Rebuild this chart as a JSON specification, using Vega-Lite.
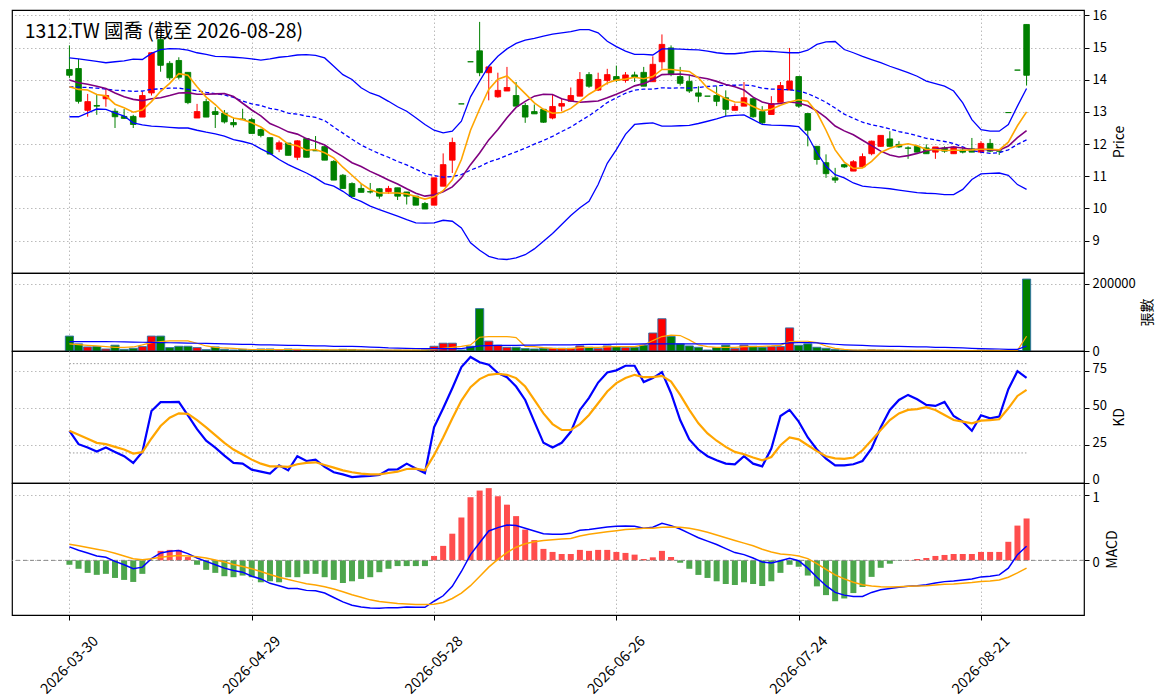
{
  "$schema": "https://vega.github.io/schema/vega-lite/v6.json",
  "padding": {"left": 10, "top": 8, "right": 0, "bottom": 0},
  "config": {
    "font": "Noto Sans CJK TC",
    "view": {"stroke": "#000000", "strokeWidth": 1.2},
    "scale": {"continuousPadding": 0},
    "axis": {
      "domain": false, "grid": true, "gridColor": "#b3b3b3", "gridDash": [1.5, 2.5], "gridWidth": 0.9,
      "tickColor": "#000000", "tickSize": 5, "tickWidth": 1,
      "labelFont": "Noto Sans CJK TC", "labelFontSize": 14, "labelColor": "#000000", "labelPadding": 3,
      "titleFont": "Noto Sans CJK TC", "titleFontSize": 14, "titleFontWeight": "normal", "titleColor": "#000000"
    },
    "axisRight": {"labelFontSize": 13}
  },
  "datasets": {
    "d": [
      {"i":0,"o":14.32,"h":15.07,"l":14.06,"c":14.14,"m5":13.78,"m10":13.99,"m20":13.78,"bu":14.68,"bl":12.85,"v":44400,"v5":21000,"v20":28000,"k":34.9,"d":34.9,"dif":0.205,"dea":0.246,"osc":-0.067},
      {"i":1,"o":14.35,"h":14.65,"l":13.26,"c":13.33,"m5":13.70,"m10":13.91,"m20":13.77,"bu":14.65,"bl":12.85,"v":21200,"v5":19000,"v20":28000,"k":25.9,"d":32.2,"dif":0.154,"dea":0.221,"osc":-0.128},
      {"i":2,"o":13.05,"h":13.56,"l":12.85,"c":13.32,"m5":13.68,"m10":13.86,"m20":13.76,"bu":14.61,"bl":12.97,"v":12100,"v5":17000,"v20":28000,"k":23.6,"d":29.5,"dif":0.113,"dea":0.195,"osc":-0.19},
      {"i":3,"o":13.20,"h":13.56,"l":12.91,"c":13.18,"m5":13.54,"m10":13.80,"m20":13.74,"bu":14.57,"bl":13.09,"v":13100,"v5":15000,"v20":28000,"k":20.9,"d":26.8,"dif":0.067,"dea":0.169,"osc":-0.22},
      {"i":4,"o":13.41,"h":13.74,"l":13.16,"c":13.51,"m5":13.50,"m10":13.73,"m20":13.71,"bu":14.53,"bl":13.08,"v":6000,"v5":13000,"v20":28000,"k":23.6,"d":25.9,"dif":0.046,"dea":0.144,"osc":-0.205},
      {"i":5,"o":13.02,"h":13.11,"l":12.50,"c":12.85,"m5":13.24,"m10":13.59,"m20":13.68,"bu":14.56,"bl":12.97,"v":17200,"v5":11000,"v20":27500,"k":20.7,"d":24.1,"dif":-0.015,"dea":0.108,"osc":-0.267},
      {"i":6,"o":12.86,"h":13.09,"l":12.78,"c":12.80,"m5":13.13,"m10":13.47,"m20":13.66,"bu":14.59,"bl":12.87,"v":5000,"v5":11000,"v20":27000,"k":17.8,"d":22.3,"dif":-0.067,"dea":0.067,"osc":-0.297},
      {"i":7,"o":12.86,"h":12.91,"l":12.50,"c":12.61,"m5":12.99,"m10":13.39,"m20":13.64,"bu":14.64,"bl":12.66,"v":8100,"v5":12000,"v20":26500,"k":13.3,"d":19.6,"dif":-0.128,"dea":0.026,"osc":-0.328},
      {"i":8,"o":12.84,"h":13.64,"l":12.84,"c":13.51,"m5":13.06,"m10":13.35,"m20":13.65,"bu":14.63,"bl":12.60,"v":13100,"v5":18000,"v20":26000,"k":20.7,"d":20.5,"dif":-0.103,"dea":0.010,"osc":-0.205},
      {"i":9,"o":13.59,"h":14.86,"l":13.51,"c":14.84,"m5":13.32,"m10":13.41,"m20":13.70,"bu":14.82,"bl":12.56,"v":44400,"v5":25000,"v20":25500,"k":48.2,"d":29.7,"dif":0.026,"dea":0.026,"osc":-0.005},
      {"i":10,"o":15.25,"h":15.36,"l":14.25,"c":14.45,"m5":13.64,"m10":13.44,"m20":13.72,"bu":14.94,"bl":12.54,"v":44400,"v5":28000,"v20":25000,"k":54.1,"d":38.1,"dif":0.113,"dea":0.046,"osc":0.144},
      {"i":11,"o":14.51,"h":14.58,"l":13.99,"c":14.06,"m5":13.89,"m10":13.51,"m20":13.74,"bu":14.97,"bl":12.52,"v":10100,"v5":30000,"v20":24500,"k":54.1,"d":43.7,"dif":0.138,"dea":0.062,"osc":0.159},
      {"i":12,"o":14.60,"h":14.70,"l":14.01,"c":14.08,"m5":14.19,"m10":13.59,"m20":13.74,"bu":14.96,"bl":12.50,"v":14100,"v5":30000,"v20":24000,"k":54.3,"d":46.6,"dif":0.149,"dea":0.072,"osc":0.159},
      {"i":13,"o":14.23,"h":14.23,"l":13.24,"c":13.29,"m5":14.14,"m10":13.60,"m20":13.70,"bu":14.92,"bl":12.50,"v":14100,"v5":30000,"v20":23500,"k":45.3,"d":46.2,"dif":0.103,"dea":0.067,"osc":0.05},
      {"i":14,"o":12.81,"h":13.25,"l":12.81,"c":13.01,"m5":13.78,"m10":13.55,"m20":13.66,"bu":14.84,"bl":12.43,"v":10100,"v5":23000,"v20":23000,"k":36.0,"d":42.1,"dif":0.036,"dea":0.056,"osc":-0.067},
      {"i":15,"o":13.32,"h":13.41,"l":12.84,"c":12.84,"m5":13.46,"m10":13.55,"m20":13.61,"bu":14.79,"bl":12.37,"v":4000,"v5":15000,"v20":22500,"k":28.2,"d":37.2,"dif":-0.015,"dea":0.036,"osc":-0.144},
      {"i":16,"o":13.01,"h":13.15,"l":12.50,"c":12.92,"m5":13.23,"m10":13.56,"m20":13.57,"bu":14.73,"bl":12.32,"v":12100,"v5":11000,"v20":22000,"k":23.6,"d":32.0,"dif":-0.067,"dea":0.005,"osc":-0.19},
      {"i":17,"o":12.96,"h":13.06,"l":12.64,"c":12.69,"m5":12.95,"m10":13.57,"m20":13.53,"bu":14.72,"bl":12.25,"v":5000,"v5":9000,"v20":21000,"k":18.2,"d":26.8,"dif":-0.118,"dea":-0.026,"osc":-0.241},
      {"i":18,"o":12.67,"h":12.82,"l":12.52,"c":12.60,"m5":12.81,"m10":13.48,"m20":13.45,"bu":14.70,"bl":12.14,"v":3000,"v5":8000,"v20":20500,"k":13.3,"d":22.3,"dif":-0.154,"dea":-0.062,"osc":-0.256},
      {"i":19,"o":12.78,"h":13.10,"l":12.76,"c":12.76,"m5":12.76,"m10":13.27,"m20":13.34,"bu":14.68,"bl":12.08,"v":5000,"v5":6000,"v20":20000,"k":12.8,"d":18.9,"dif":-0.179,"dea":-0.092,"osc":-0.231},
      {"i":20,"o":12.76,"h":12.82,"l":12.33,"c":12.33,"m5":12.66,"m10":13.06,"m20":13.25,"bu":14.65,"bl":12.01,"v":3000,"v5":4500,"v20":19500,"k":8.8,"d":15.5,"dif":-0.241,"dea":-0.128,"osc":-0.256},
      {"i":21,"o":12.45,"h":12.48,"l":12.21,"c":12.27,"m5":12.53,"m10":12.88,"m20":13.20,"bu":14.61,"bl":11.85,"v":6000,"v5":4500,"v20":18500,"k":7.4,"d":12.8,"dif":-0.282,"dea":-0.169,"osc":-0.333},
      {"i":22,"o":12.20,"h":12.20,"l":11.69,"c":11.69,"m5":12.33,"m10":12.64,"m20":13.11,"bu":14.65,"bl":11.71,"v":6000,"v5":4500,"v20":18000,"k":6.1,"d":11.0,"dif":-0.349,"dea":-0.215,"osc":-0.318},
      {"i":23,"o":11.84,"h":12.11,"l":11.75,"c":12.04,"m5":12.22,"m10":12.52,"m20":13.06,"bu":14.70,"bl":11.52,"v":3000,"v5":4500,"v20":17500,"k":11.7,"d":11.0,"dif":-0.385,"dea":-0.256,"osc":-0.333},
      {"i":24,"o":12.03,"h":12.03,"l":11.65,"c":11.65,"m5":12.00,"m10":12.38,"m20":12.96,"bu":14.73,"bl":11.36,"v":6000,"v5":4500,"v20":17000,"k":8.3,"d":10.6,"dif":-0.426,"dea":-0.292,"osc":-0.256},
      {"i":25,"o":11.59,"h":12.12,"l":11.50,"c":12.10,"m5":11.95,"m10":12.31,"m20":12.93,"bu":14.77,"bl":11.23,"v":5000,"v5":4500,"v20":16500,"k":17.8,"d":12.4,"dif":-0.426,"dea":-0.323,"osc":-0.256},
      {"i":26,"o":12.17,"h":12.17,"l":11.59,"c":11.59,"m5":11.81,"m10":12.17,"m20":12.87,"bu":14.78,"bl":11.10,"v":3000,"v5":4000,"v20":16000,"k":14.6,"d":13.3,"dif":-0.456,"dea":-0.354,"osc":-0.205},
      {"i":27,"o":11.80,"h":12.25,"l":11.79,"c":11.79,"m5":11.83,"m10":12.08,"m20":12.83,"bu":14.76,"bl":10.95,"v":2500,"v5":4000,"v20":15500,"k":15.5,"d":13.7,"dif":-0.462,"dea":-0.374,"osc":-0.205},
      {"i":28,"o":11.92,"h":11.93,"l":11.50,"c":11.50,"m5":11.73,"m10":11.97,"m20":12.73,"bu":14.68,"bl":10.77,"v":3000,"v5":3500,"v20":15000,"k":10.6,"d":11.9,"dif":-0.497,"dea":-0.400,"osc":-0.256},
      {"i":29,"o":11.46,"h":11.50,"l":10.88,"c":10.88,"m5":11.57,"m10":11.78,"m20":12.53,"bu":14.42,"bl":10.69,"v":2500,"v5":3500,"v20":14000,"k":7.0,"d":10.1,"dif":-0.564,"dea":-0.436,"osc":-0.297},
      {"i":30,"o":11.03,"h":11.07,"l":10.62,"c":10.62,"m5":11.28,"m10":11.61,"m20":12.34,"bu":14.16,"bl":10.53,"v":5000,"v5":3500,"v20":14000,"k":5.6,"d":8.3,"dif":-0.631,"dea":-0.477,"osc":-0.344},
      {"i":31,"o":10.77,"h":10.81,"l":10.37,"c":10.37,"m5":11.03,"m10":11.42,"m20":12.15,"bu":14.01,"bl":10.33,"v":4500,"v5":3500,"v20":13500,"k":3.8,"d":7.0,"dif":-0.682,"dea":-0.523,"osc":-0.318},
      {"i":32,"o":10.62,"h":10.76,"l":10.50,"c":10.50,"m5":10.77,"m10":11.30,"m20":11.97,"bu":13.75,"bl":10.22,"v":2500,"v5":3500,"v20":13000,"k":4.3,"d":6.1,"dif":-0.708,"dea":-0.559,"osc":-0.282},
      {"i":33,"o":10.52,"h":10.79,"l":10.46,"c":10.51,"m5":10.58,"m10":11.15,"m20":11.83,"bu":13.59,"bl":10.07,"v":2000,"v5":3000,"v20":11500,"k":4.5,"d":5.6,"dif":-0.723,"dea":-0.600,"osc":-0.256},
      {"i":34,"o":10.61,"h":10.63,"l":10.30,"c":10.38,"m5":10.48,"m10":11.02,"m20":11.70,"bu":13.49,"bl":9.96,"v":2500,"v5":3000,"v20":10500,"k":5.2,"d":5.6,"dif":-0.728,"dea":-0.626,"osc":-0.18},
      {"i":35,"o":10.52,"h":10.70,"l":10.45,"c":10.62,"m5":10.48,"m10":10.88,"m20":11.59,"bu":13.33,"bl":9.86,"v":2000,"v5":3000,"v20":9000,"k":8.8,"d":6.5,"dif":-0.718,"dea":-0.641,"osc":-0.128},
      {"i":36,"o":10.64,"h":10.64,"l":10.26,"c":10.38,"m5":10.48,"m10":10.76,"m20":11.46,"bu":13.16,"bl":9.76,"v":2500,"v5":2500,"v20":8500,"k":9.0,"d":7.4,"dif":-0.718,"dea":-0.656,"osc":-0.087},
      {"i":37,"o":10.51,"h":10.51,"l":10.12,"c":10.38,"m5":10.45,"m10":10.61,"m20":11.35,"bu":13.02,"bl":9.65,"v":2000,"v5":2500,"v20":8000,"k":12.8,"d":9.2,"dif":-0.708,"dea":-0.662,"osc":-0.087},
      {"i":38,"o":10.38,"h":10.38,"l":10.10,"c":10.10,"m5":10.37,"m10":10.47,"m20":11.22,"bu":12.82,"bl":9.55,"v":2500,"v5":2500,"v20":7500,"k":9.5,"d":9.5,"dif":-0.713,"dea":-0.672,"osc":-0.087},
      {"i":39,"o":10.15,"h":10.20,"l":9.98,"c":9.98,"m5":10.29,"m10":10.38,"m20":11.08,"bu":12.61,"bl":9.54,"v":3000,"v5":2500,"v20":7000,"k":6.5,"d":8.3,"dif":-0.713,"dea":-0.672,"osc":-0.087},
      {"i":40,"o":10.10,"h":10.95,"l":10.10,"c":10.95,"m5":10.36,"m10":10.42,"m20":11.02,"bu":12.43,"bl":9.55,"v":14100,"v5":5000,"v20":7000,"k":37.2,"d":18.5,"dif":-0.621,"dea":-0.667,"osc":0.067},
      {"i":41,"o":10.69,"h":11.71,"l":10.69,"c":11.36,"m5":10.55,"m10":10.52,"m20":10.97,"bu":12.35,"bl":9.63,"v":23200,"v5":8000,"v20":7000,"k":50.0,"d":30.4,"dif":-0.538,"dea":-0.641,"osc":0.22},
      {"i":42,"o":11.50,"h":12.20,"l":11.10,"c":12.05,"m5":10.89,"m10":10.67,"m20":10.99,"bu":12.40,"bl":9.60,"v":23200,"v5":11000,"v20":7000,"k":63.5,"d":43.2,"dif":-0.395,"dea":-0.579,"osc":0.405},
      {"i":43,"o":13.25,"h":13.25,"l":13.25,"c":13.25,"m5":11.52,"m10":10.95,"m20":11.05,"bu":12.71,"bl":9.39,"v":3000,"v5":14000,"v20":7000,"k":77.7,"d":55.2,"dif":-0.169,"dea":-0.497,"osc":0.651},
      {"i":44,"o":14.56,"h":14.56,"l":14.56,"c":14.56,"m5":12.43,"m10":11.36,"m20":11.19,"bu":13.47,"bl":8.93,"v":14100,"v5":18000,"v20":11000,"k":84.5,"d":64.2,"dif":0.087,"dea":-0.385,"osc":0.959},
      {"i":45,"o":14.90,"h":15.80,"l":14.11,"c":14.22,"m5":13.09,"m10":11.72,"m20":11.30,"bu":13.96,"bl":8.70,"v":126100,"v5":41000,"v20":15000,"k":80.9,"d":69.6,"dif":0.267,"dea":-0.246,"osc":1.06},
      {"i":46,"o":14.22,"h":14.40,"l":13.36,"c":14.40,"m5":13.70,"m10":12.13,"m20":11.44,"bu":14.42,"bl":8.51,"v":29300,"v5":43000,"v20":16000,"k":79.3,"d":72.5,"dif":0.446,"dea":-0.103,"osc":1.097},
      {"i":47,"o":13.47,"h":14.22,"l":13.44,"c":13.67,"m5":14.02,"m10":12.45,"m20":11.53,"bu":14.73,"bl":8.43,"v":17200,"v5":43000,"v20":16500,"k":73.6,"d":73.2,"dif":0.497,"dea":0.015,"osc":0.974},
      {"i":48,"o":13.65,"h":14.40,"l":13.65,"c":13.76,"m5":14.12,"m10":12.82,"m20":11.65,"bu":14.96,"bl":8.41,"v":11100,"v5":43000,"v20":17000,"k":70.9,"d":72.5,"dif":0.538,"dea":0.118,"osc":0.846},
      {"i":49,"o":13.51,"h":13.93,"l":13.18,"c":13.18,"m5":13.85,"m10":13.14,"m20":11.76,"bu":15.13,"bl":8.46,"v":11100,"v5":40000,"v20":17000,"k":64.6,"d":70.3,"dif":0.528,"dea":0.200,"osc":0.672},
      {"i":50,"o":13.20,"h":13.28,"l":12.66,"c":12.84,"m5":13.57,"m10":13.33,"m20":11.87,"bu":15.23,"bl":8.56,"v":7100,"v5":14000,"v20":17500,"k":55.6,"d":64.6,"dif":0.487,"dea":0.251,"osc":0.467},
      {"i":51,"o":13.01,"h":13.23,"l":12.94,"c":12.94,"m5":13.28,"m10":13.49,"m20":12.00,"bu":15.29,"bl":8.74,"v":6000,"v5":13000,"v20":17500,"k":41.0,"d":55.6,"dif":0.446,"dea":0.282,"osc":0.308},
      {"i":52,"o":13.08,"h":13.08,"l":12.66,"c":12.68,"m5":13.08,"m10":13.55,"m20":12.11,"bu":15.36,"bl":8.98,"v":8100,"v5":10000,"v20":18000,"k":26.8,"d":46.6,"dif":0.405,"dea":0.303,"osc":0.174},
      {"i":53,"o":12.81,"h":13.54,"l":12.77,"c":13.17,"m5":12.96,"m10":13.54,"m20":12.24,"bu":15.42,"bl":9.22,"v":8100,"v5":8000,"v20":18000,"k":23.6,"d":39.4,"dif":0.395,"dea":0.313,"osc":0.128},
      {"i":54,"o":13.18,"h":13.42,"l":13.02,"c":13.26,"m5":12.98,"m10":13.41,"m20":12.39,"bu":15.46,"bl":9.50,"v":8100,"v5":7000,"v20":18500,"k":26.8,"d":35.4,"dif":0.395,"dea":0.323,"osc":0.097},
      {"i":55,"o":13.33,"h":13.76,"l":13.33,"c":13.51,"m5":13.11,"m10":13.34,"m20":12.53,"bu":15.50,"bl":9.78,"v":8100,"v5":7000,"v20":18500,"k":34.2,"d":35.4,"dif":0.410,"dea":0.333,"osc":0.097},
      {"i":56,"o":13.49,"h":14.24,"l":13.49,"c":14.01,"m5":13.33,"m10":13.30,"m20":12.71,"bu":15.56,"bl":10.02,"v":15100,"v5":10000,"v20":19000,"k":48.9,"d":39.4,"dif":0.456,"dea":0.369,"osc":0.159},
      {"i":57,"o":14.16,"h":14.24,"l":13.75,"c":13.80,"m5":13.55,"m10":13.32,"m20":12.88,"bu":15.56,"bl":10.22,"v":11100,"v5":11000,"v20":20000,"k":57.0,"d":45.5,"dif":0.467,"dea":0.395,"osc":0.144},
      {"i":58,"o":13.68,"h":14.22,"l":13.65,"c":14.01,"m5":13.72,"m10":13.34,"m20":13.08,"bu":15.46,"bl":10.74,"v":7100,"v5":11000,"v20":20000,"k":67.3,"d":53.4,"dif":0.487,"dea":0.415,"osc":0.159},
      {"i":59,"o":13.98,"h":14.34,"l":13.85,"c":14.16,"m5":13.90,"m10":13.44,"m20":13.29,"bu":15.20,"bl":11.40,"v":15100,"v5":12000,"v20":20000,"k":74.1,"d":61.3,"dif":0.508,"dea":0.436,"osc":0.159},
      {"i":60,"o":14.10,"h":14.44,"l":13.93,"c":13.98,"m5":13.99,"m10":13.55,"m20":13.44,"bu":15.03,"bl":11.83,"v":13100,"v5":13000,"v20":20500,"k":75.5,"d":66.9,"dif":0.518,"dea":0.451,"osc":0.128},
      {"i":61,"o":13.98,"h":14.24,"l":13.91,"c":14.15,"m5":14.02,"m10":13.67,"m20":13.58,"bu":14.89,"bl":12.30,"v":10100,"v5":13000,"v20":20500,"k":78.6,"d":70.3,"dif":0.523,"dea":0.467,"osc":0.113},
      {"i":62,"o":14.15,"h":14.25,"l":13.93,"c":14.08,"m5":14.08,"m10":13.81,"m20":13.68,"bu":14.79,"bl":12.61,"v":11100,"v5":13000,"v20":20500,"k":78.6,"d":72.5,"dif":0.518,"dea":0.477,"osc":0.087},
      {"i":63,"o":14.23,"h":14.40,"l":13.80,"c":13.80,"m5":14.03,"m10":13.88,"m20":13.71,"bu":14.79,"bl":12.64,"v":17200,"v5":18000,"v20":21000,"k":67.6,"d":70.9,"dif":0.487,"dea":0.487,"osc":0.021},
      {"i":64,"o":13.94,"h":14.73,"l":13.94,"c":14.48,"m5":14.10,"m10":14.00,"m20":13.71,"bu":14.77,"bl":12.66,"v":53500,"v5":31000,"v20":21000,"k":70.3,"d":70.9,"dif":0.503,"dea":0.487,"osc":0.046},
      {"i":65,"o":14.56,"h":15.41,"l":14.34,"c":15.10,"m5":14.32,"m10":14.16,"m20":13.75,"bu":14.96,"bl":12.56,"v":96000,"v5":43000,"v20":21000,"k":74.3,"d":71.8,"dif":0.564,"dea":0.503,"osc":0.144},
      {"i":66,"o":14.99,"h":15.07,"l":14.11,"c":14.16,"m5":14.32,"m10":14.17,"m20":13.74,"bu":14.96,"bl":12.56,"v":43400,"v5":47000,"v20":21000,"k":60.1,"d":68.0,"dif":0.528,"dea":0.508,"osc":0.051},
      {"i":67,"o":14.10,"h":14.40,"l":13.82,"c":13.89,"m5":14.29,"m10":14.18,"m20":13.75,"bu":14.95,"bl":12.57,"v":21200,"v5":46000,"v20":21000,"k":42.1,"d":59.0,"dif":0.477,"dea":0.503,"osc":-0.036},
      {"i":68,"o":13.95,"h":14.15,"l":13.59,"c":13.65,"m5":14.26,"m10":14.15,"m20":13.74,"bu":14.94,"bl":12.58,"v":15100,"v5":33000,"v20":21000,"k":29.1,"d":48.9,"dif":0.410,"dea":0.487,"osc":-0.128},
      {"i":69,"o":13.59,"h":13.80,"l":13.30,"c":13.49,"m5":14.06,"m10":14.08,"m20":13.76,"bu":14.93,"bl":12.64,"v":11100,"v5":18000,"v20":21000,"k":22.3,"d":39.9,"dif":0.344,"dea":0.462,"osc":-0.221},
      {"i":70,"o":13.49,"h":13.49,"l":13.49,"c":13.49,"m5":13.74,"m10":14.03,"m20":13.79,"bu":14.89,"bl":12.71,"v":3000,"v5":13000,"v20":21000,"k":17.8,"d":33.1,"dif":0.292,"dea":0.426,"osc":-0.267},
      {"i":71,"o":13.51,"h":13.80,"l":13.18,"c":13.33,"m5":13.57,"m10":13.95,"m20":13.81,"bu":14.84,"bl":12.78,"v":10100,"v5":11000,"v20":21000,"k":15.1,"d":28.2,"dif":0.241,"dea":0.385,"osc":-0.318},
      {"i":72,"o":13.44,"h":13.67,"l":12.87,"c":13.08,"m5":13.41,"m10":13.85,"m20":13.83,"bu":14.81,"bl":12.87,"v":17200,"v5":11000,"v20":21000,"k":12.8,"d":24.1,"dif":0.179,"dea":0.344,"osc":-0.359},
      {"i":73,"o":13.05,"h":13.26,"l":13.05,"c":13.17,"m5":13.31,"m10":13.78,"m20":13.83,"bu":14.81,"bl":12.89,"v":7100,"v5":11000,"v20":21000,"k":12.4,"d":20.7,"dif":0.118,"dea":0.303,"osc":-0.374},
      {"i":74,"o":13.18,"h":13.93,"l":13.18,"c":13.44,"m5":13.30,"m10":13.68,"m20":13.84,"bu":14.84,"bl":12.91,"v":17200,"v5":13000,"v20":21000,"k":17.8,"d":19.1,"dif":0.087,"dea":0.262,"osc":-0.333},
      {"i":75,"o":13.41,"h":13.44,"l":12.82,"c":12.85,"m5":13.17,"m10":13.46,"m20":13.81,"bu":14.88,"bl":12.76,"v":14100,"v5":13000,"v20":21000,"k":12.8,"d":16.9,"dif":0.036,"dea":0.221,"osc":-0.359},
      {"i":76,"o":13.01,"h":13.18,"l":12.61,"c":12.66,"m5":13.04,"m10":13.31,"m20":13.74,"bu":14.89,"bl":12.61,"v":11100,"v5":14000,"v20":21000,"k":11.0,"d":15.1,"dif":-0.026,"dea":0.169,"osc":-0.390},
      {"i":77,"o":12.92,"h":13.49,"l":12.92,"c":13.26,"m5":13.08,"m10":13.24,"m20":13.71,"bu":14.88,"bl":12.59,"v":13100,"v5":15000,"v20":21000,"k":23.0,"d":17.3,"dif":-0.041,"dea":0.128,"osc":-0.318},
      {"i":78,"o":13.30,"h":13.93,"l":13.30,"c":13.82,"m5":13.21,"m10":13.26,"m20":13.70,"bu":14.86,"bl":12.58,"v":13100,"v5":17000,"v20":21000,"k":44.8,"d":25.2,"dif":-0.005,"dea":0.097,"osc":-0.190},
      {"i":79,"o":13.68,"h":14.99,"l":13.68,"c":13.96,"m5":13.31,"m10":13.31,"m20":13.69,"bu":14.84,"bl":12.57,"v":68700,"v5":28000,"v20":24000,"k":48.9,"d":30.4,"dif":0.031,"dea":0.087,"osc":-0.067},
      {"i":80,"o":14.10,"h":14.10,"l":13.13,"c":13.18,"m5":13.38,"m10":13.28,"m20":13.65,"bu":14.84,"bl":12.54,"v":17200,"v5":29000,"v20":25000,"k":41.0,"d":29.1,"dif":-0.005,"dea":0.067,"osc":-0.097},
      {"i":81,"o":12.95,"h":12.95,"l":11.93,"c":12.43,"m5":13.33,"m10":13.19,"m20":13.57,"bu":14.92,"bl":12.25,"v":21200,"v5":29000,"v20":25000,"k":30.4,"d":25.2,"dif":-0.118,"dea":0.026,"osc":-0.231},
      {"i":82,"o":11.93,"h":11.93,"l":11.36,"c":11.52,"m5":12.98,"m10":13.03,"m20":13.44,"bu":15.10,"bl":11.73,"v":11100,"v5":25000,"v20":24000,"k":22.3,"d":21.2,"dif":-0.256,"dea":-0.051,"osc":-0.395},
      {"i":83,"o":11.42,"h":11.68,"l":10.95,"c":11.08,"m5":12.43,"m10":12.82,"m20":13.30,"bu":15.18,"bl":11.31,"v":8100,"v5":15000,"v20":22000,"k":16.2,"d":17.8,"dif":-0.385,"dea":-0.138,"osc":-0.528},
      {"i":84,"o":10.95,"h":11.26,"l":10.79,"c":10.88,"m5":11.82,"m10":12.56,"m20":13.12,"bu":15.19,"bl":11.05,"v":5000,"v5":8000,"v20":20000,"k":11.7,"d":16.4,"dif":-0.487,"dea":-0.221,"osc":-0.621},
      {"i":85,"o":11.36,"h":11.39,"l":11.26,"c":11.29,"m5":11.44,"m10":12.41,"m20":12.93,"bu":14.94,"bl":10.95,"v":3000,"v5":5000,"v20":18500,"k":11.7,"d":16.0,"dif":-0.528,"dea":-0.282,"osc":-0.579},
      {"i":86,"o":11.16,"h":11.50,"l":11.16,"c":11.45,"m5":11.24,"m10":12.29,"m20":12.80,"bu":14.84,"bl":10.79,"v":2500,"v5":3000,"v20":17500,"k":12.4,"d":16.9,"dif":-0.549,"dea":-0.333,"osc":-0.497},
      {"i":87,"o":11.29,"h":11.71,"l":11.26,"c":11.61,"m5":11.26,"m10":12.12,"m20":12.68,"bu":14.73,"bl":10.69,"v":2500,"v5":2800,"v20":16500,"k":14.6,"d":21.8,"dif":-0.549,"dea":-0.369,"osc":-0.405},
      {"i":88,"o":11.70,"h":12.11,"l":11.65,"c":12.09,"m5":11.46,"m10":11.95,"m20":12.60,"bu":14.63,"bl":10.66,"v":3500,"v5":2600,"v20":15500,"k":23.0,"d":28.6,"dif":-0.487,"dea":-0.390,"osc":-0.251},
      {"i":89,"o":11.93,"h":12.27,"l":11.91,"c":12.27,"m5":11.74,"m10":11.78,"m20":12.54,"bu":14.53,"bl":10.64,"v":2500,"v5":2500,"v20":14500,"k":37.2,"d":35.4,"dif":-0.446,"dea":-0.400,"osc":-0.113},
      {"i":90,"o":12.16,"h":12.40,"l":11.93,"c":11.93,"m5":11.87,"m10":11.66,"m20":12.47,"bu":14.42,"bl":10.61,"v":2000,"v5":2400,"v20":14000,"k":48.9,"d":42.1,"dif":-0.426,"dea":-0.405,"osc":-0.051},
      {"i":91,"o":11.99,"h":12.09,"l":11.88,"c":11.91,"m5":11.96,"m10":11.60,"m20":12.39,"bu":14.32,"bl":10.57,"v":1500,"v5":2300,"v20":13500,"k":55.6,"d":46.6,"dif":-0.410,"dea":-0.400,"osc":-0.005},
      {"i":92,"o":11.88,"h":11.93,"l":11.54,"c":11.87,"m5":12.01,"m10":11.64,"m20":12.33,"bu":14.22,"bl":10.53,"v":1500,"v5":2200,"v20":13000,"k":59.0,"d":48.9,"dif":-0.395,"dea":-0.395,"osc":0.005},
      {"i":93,"o":11.93,"h":11.96,"l":11.73,"c":11.75,"m5":11.95,"m10":11.71,"m20":12.26,"bu":14.11,"bl":10.49,"v":1500,"v5":2000,"v20":12500,"k":56.1,"d":49.5,"dif":-0.385,"dea":-0.390,"osc":0.021},
      {"i":94,"o":11.88,"h":11.99,"l":11.70,"c":11.70,"m5":11.83,"m10":11.79,"m20":12.18,"bu":13.96,"bl":10.47,"v":1500,"v5":1800,"v20":12000,"k":52.3,"d":50.7,"dif":-0.369,"dea":-0.385,"osc":0.036},
      {"i":95,"o":11.75,"h":11.91,"l":11.54,"c":11.91,"m5":11.83,"m10":11.85,"m20":12.13,"bu":13.88,"bl":10.46,"v":2000,"v5":1700,"v20":11000,"k":51.6,"d":48.9,"dif":-0.344,"dea":-0.374,"osc":0.067},
      {"i":96,"o":11.88,"h":11.93,"l":11.73,"c":11.78,"m5":11.80,"m10":11.88,"m20":12.08,"bu":13.80,"bl":10.43,"v":1500,"v5":1600,"v20":10500,"k":54.3,"d":45.5,"dif":-0.323,"dea":-0.364,"osc":0.082},
      {"i":97,"o":11.70,"h":11.93,"l":11.70,"c":11.91,"m5":11.81,"m10":11.91,"m20":12.02,"bu":13.65,"bl":10.43,"v":1500,"v5":1600,"v20":10000,"k":44.8,"d":42.1,"dif":-0.313,"dea":-0.359,"osc":0.097},
      {"i":98,"o":11.81,"h":11.88,"l":11.71,"c":11.75,"m5":11.81,"m10":11.88,"m20":11.91,"bu":13.28,"bl":10.59,"v":1200,"v5":1500,"v20":9000,"k":41.0,"d":41.0,"dif":-0.297,"dea":-0.349,"osc":0.097},
      {"i":99,"o":11.85,"h":12.19,"l":11.75,"c":11.75,"m5":11.82,"m10":11.83,"m20":11.80,"bu":12.76,"bl":10.90,"v":1500,"v5":1500,"v20":8000,"k":34.9,"d":39.9,"dif":-0.282,"dea":-0.338,"osc":0.097},
      {"i":100,"o":11.75,"h":12.09,"l":11.71,"c":12.02,"m5":11.84,"m10":11.84,"m20":11.75,"bu":12.45,"bl":11.07,"v":2500,"v5":1600,"v20":7000,"k":45.3,"d":41.7,"dif":-0.251,"dea":-0.323,"osc":0.128},
      {"i":101,"o":12.02,"h":12.16,"l":11.75,"c":11.78,"m5":11.84,"m10":11.82,"m20":11.71,"bu":12.40,"bl":11.09,"v":2000,"v5":1700,"v20":6500,"k":43.2,"d":42.1,"dif":-0.241,"dea":-0.313,"osc":0.128},
      {"i":102,"o":11.78,"h":11.78,"l":11.66,"c":11.78,"m5":11.82,"m10":11.81,"m20":11.73,"bu":12.40,"bl":11.10,"v":1500,"v5":1700,"v20":6000,"k":44.4,"d":42.6,"dif":-0.221,"dea":-0.297,"osc":0.128},
      {"i":103,"o":12.98,"h":12.98,"l":12.98,"c":12.98,"m5":12.06,"m10":11.94,"m20":11.82,"bu":12.61,"bl":11.03,"v":1500,"v5":1700,"v20":5000,"k":62.8,"d":50.0,"dif":-0.118,"dea":-0.256,"osc":0.282},
      {"i":104,"o":14.30,"h":14.30,"l":14.30,"c":14.30,"m5":12.57,"m10":12.20,"m20":11.99,"bu":13.18,"bl":10.74,"v":1500,"v5":1800,"v20":5000,"k":75.0,"d":58.3,"dif":0.087,"dea":-0.190,"osc":0.528},
      {"i":105,"o":15.72,"h":15.72,"l":13.82,"c":14.14,"m5":13.00,"m10":12.42,"m20":12.13,"bu":13.73,"bl":10.59,"v":214000,"v5":44000,"v20":15000,"k":70.5,"d":62.4,"dif":0.215,"dea":-0.118,"osc":0.636}
    ]
  },
  "data": {"name": "d"},
  "spacing": 0,
  "bounds": "flush",
  "vconcat": [
    {
      "width": 1072,
      "height": 263,
      "encoding": {
        "x": {"field": "i", "type": "quantitative", "scale": {"domain": [-6.3, 111.3], "nice": false, "zero": false, "padding": 0},
              "axis": {"values": [0, 20, 40, 60, 80, 100], "labels": false, "ticks": false, "title": null}}
      },
      "layer": [
        {
          "mark": {"type": "rule", "strokeWidth": 1},
          "encoding": {
            "y": {"field": "l", "type": "quantitative", "scale": {"domain": [7.99, 16.17], "nice": false, "zero": false, "padding": 0},
                  "axis": {"orient": "right", "values": [9, 10, 11, 12, 13, 14, 15, 16], "title": "Price", "titleAngle": 270, "titleBaseline": "top", "titlePadding": 6}},
            "y2": {"field": "h"},
            "color": {"condition": {"test": "datum.c > datum.o", "value": "#ff0000"}, "value": "#008000"}
          }
        },
        {
          "mark": {"type": "bar", "width": 5.6, "strokeWidth": 0.9},
          "encoding": {
            "y": {"field": "o", "type": "quantitative", "scale": {"domain": [7.99, 16.17], "nice": false, "zero": false, "padding": 0},
                  "axis": {"orient": "right", "values": [9, 10, 11, 12, 13, 14, 15, 16], "title": "Price", "titleAngle": 270, "titleBaseline": "top", "titlePadding": 6}},
            "y2": {"field": "c"},
            "color": {"condition": {"test": "datum.c > datum.o", "value": "#ff0000"}, "value": "#008000"},
            "stroke": {"condition": {"test": "datum.c > datum.o", "value": "#ff0000"}, "value": "#008000"}
          }
        },
        {
          "mark": {"type": "line", "color": "#0000ff", "strokeWidth": 1.3},
          "encoding": {"y": {"field": "bu", "type": "quantitative", "scale": {"domain": [7.99, 16.17], "nice": false, "zero": false, "padding": 0},
                             "axis": {"orient": "right", "values": [9, 10, 11, 12, 13, 14, 15, 16], "title": "Price", "titleAngle": 270, "titleBaseline": "top", "titlePadding": 6}}}
        },
        {
          "mark": {"type": "line", "color": "#0000ff", "strokeWidth": 1.3},
          "encoding": {"y": {"field": "bl", "type": "quantitative", "scale": {"domain": [7.99, 16.17], "nice": false, "zero": false, "padding": 0},
                             "axis": {"orient": "right", "values": [9, 10, 11, 12, 13, 14, 15, 16], "title": "Price", "titleAngle": 270, "titleBaseline": "top", "titlePadding": 6}}}
        },
        {
          "mark": {"type": "line", "color": "#0000ff", "strokeWidth": 1.3, "strokeDash": [4, 2.5]},
          "encoding": {"y": {"field": "m20", "type": "quantitative", "scale": {"domain": [7.99, 16.17], "nice": false, "zero": false, "padding": 0},
                             "axis": {"orient": "right", "values": [9, 10, 11, 12, 13, 14, 15, 16], "title": "Price", "titleAngle": 270, "titleBaseline": "top", "titlePadding": 6}}}
        },
        {
          "mark": {"type": "line", "color": "#800080", "strokeWidth": 1.6},
          "encoding": {"y": {"field": "m10", "type": "quantitative", "scale": {"domain": [7.99, 16.17], "nice": false, "zero": false, "padding": 0},
                             "axis": {"orient": "right", "values": [9, 10, 11, 12, 13, 14, 15, 16], "title": "Price", "titleAngle": 270, "titleBaseline": "top", "titlePadding": 6}}}
        },
        {
          "mark": {"type": "line", "color": "#ffa500", "strokeWidth": 1.6},
          "encoding": {"y": {"field": "m5", "type": "quantitative", "scale": {"domain": [7.99, 16.17], "nice": false, "zero": false, "padding": 0},
                             "axis": {"orient": "right", "values": [9, 10, 11, 12, 13, 14, 15, 16], "title": "Price", "titleAngle": 270, "titleBaseline": "top", "titlePadding": 6}}}
        },
        {
          "transform": [{"filter": "datum.i == 0"}],
          "mark": {"type": "text", "align": "left", "baseline": "alphabetic", "fontSize": 19.4, "font": "Noto Sans CJK TC", "color": "#000000", "text": "1312.TW 國喬 (截至 2026-08-28)"},
          "encoding": {
            "x": {"datum": -4.9, "type": "quantitative"},
            "y": {"datum": 15.31, "type": "quantitative", "scale": {"domain": [7.99, 16.17], "nice": false, "zero": false, "padding": 0},
                  "axis": {"orient": "right", "values": [9, 10, 11, 12, 13, 14, 15, 16], "title": "Price", "titleAngle": 270, "titleBaseline": "top", "titlePadding": 6}}
          }
        }
      ]
    },
    {
      "width": 1072,
      "height": 78,
      "encoding": {
        "x": {"field": "i", "type": "quantitative", "scale": {"domain": [-6.3, 111.3], "nice": false, "zero": false, "padding": 0},
              "axis": {"values": [0, 20, 40, 60, 80, 100], "labels": false, "ticks": false, "title": null}}
      },
      "layer": [
        {
          "mark": {"type": "bar", "width": 8.2, "stroke": "#2f6fa8", "strokeWidth": 0.9},
          "encoding": {
            "y": {"field": "v", "type": "quantitative", "scale": {"domain": [0, 232000], "nice": false, "padding": 0},
                  "axis": {"orient": "right", "values": [0, 200000], "format": "d", "title": "張數", "titleAngle": 270, "titleBaseline": "top", "titlePadding": 5}},
            "color": {"condition": {"test": "datum.c > datum.o", "value": "#ff0000"}, "value": "#008000"}
          }
        },
        {
          "mark": {"type": "line", "color": "#ffa500", "strokeWidth": 1.2},
          "encoding": {"y": {"field": "v5", "type": "quantitative", "scale": {"domain": [0, 232000], "nice": false, "padding": 0},
                             "axis": {"orient": "right", "values": [0, 200000], "format": "d", "title": "張數", "titleAngle": 270, "titleBaseline": "top", "titlePadding": 5}}}
        },
        {
          "mark": {"type": "line", "color": "#0000ff", "strokeWidth": 1.2},
          "encoding": {"y": {"field": "v20", "type": "quantitative", "scale": {"domain": [0, 232000], "nice": false, "padding": 0},
                             "axis": {"orient": "right", "values": [0, 200000], "format": "d", "title": "張數", "titleAngle": 270, "titleBaseline": "top", "titlePadding": 5}}}
        }
      ]
    },
    {
      "width": 1072,
      "height": 132,
      "encoding": {
        "x": {"field": "i", "type": "quantitative", "scale": {"domain": [-6.3, 111.3], "nice": false, "zero": false, "padding": 0},
              "axis": {"values": [0, 20, 40, 60, 80, 100], "labels": false, "ticks": false, "title": null}}
      },
      "layer": [
        {
          "mark": {"type": "rule", "color": "#999999", "strokeWidth": 1, "strokeDash": [1.5, 2]},
          "encoding": {
            "x": {"aggregate": "min", "field": "i", "type": "quantitative"},
            "x2": {"aggregate": "max", "field": "i"},
            "y": {"datum": 80, "type": "quantitative", "scale": {"domain": [-0.2, 88.5], "nice": false, "zero": false, "padding": 0},
                  "axis": {"orient": "right", "values": [0, 25, 50, 75], "labelOffset": -3, "title": "KD", "titleAngle": 270, "titleBaseline": "top", "titlePadding": 6}}
          }
        },
        {
          "mark": {"type": "rule", "color": "#999999", "strokeWidth": 1, "strokeDash": [1.5, 2]},
          "encoding": {
            "x": {"aggregate": "min", "field": "i", "type": "quantitative"},
            "x2": {"aggregate": "max", "field": "i"},
            "y": {"datum": 20, "type": "quantitative", "scale": {"domain": [-0.2, 88.5], "nice": false, "zero": false, "padding": 0},
                  "axis": {"orient": "right", "values": [0, 25, 50, 75], "labelOffset": -3, "title": "KD", "titleAngle": 270, "titleBaseline": "top", "titlePadding": 6}}
          }
        },
        {
          "mark": {"type": "line", "color": "#0000ff", "strokeWidth": 2.2},
          "encoding": {"y": {"field": "k", "type": "quantitative", "scale": {"domain": [-0.2, 88.5], "nice": false, "zero": false, "padding": 0},
                             "axis": {"orient": "right", "values": [0, 25, 50, 75], "labelOffset": -3, "title": "KD", "titleAngle": 270, "titleBaseline": "top", "titlePadding": 6}}}
        },
        {
          "mark": {"type": "line", "color": "#ffa500", "strokeWidth": 2.2},
          "encoding": {"y": {"field": "d", "type": "quantitative", "scale": {"domain": [-0.2, 88.5], "nice": false, "zero": false, "padding": 0},
                             "axis": {"orient": "right", "values": [0, 25, 50, 75], "labelOffset": -3, "title": "KD", "titleAngle": 270, "titleBaseline": "top", "titlePadding": 6}}}
        }
      ]
    },
    {
      "width": 1072,
      "height": 132,
      "encoding": {
        "x": {"field": "i", "type": "quantitative", "scale": {"domain": [-6.3, 111.3], "nice": false, "zero": false, "padding": 0},
              "axis": {"values": [0, 20, 40, 60, 80, 100], "title": null,
                       "labelExpr": "datum.value == 0 ? '2026-03-30' : datum.value == 20 ? '2026-04-29' : datum.value == 40 ? '2026-05-28' : datum.value == 60 ? '2026-06-26' : datum.value == 80 ? '2026-07-24' : '2026-08-21'",
                       "labelFontSize": 14.5, "labelAngle": -45, "labelAlign": "center", "labelBaseline": "middle", "labelPadding": 45,
                       "labelOverlap": false, "labelFlush": false, "labelBound": false}}
      },
      "layer": [
        {
          "mark": {"type": "bar", "width": 6},
          "encoding": {
            "y": {"field": "osc", "type": "quantitative", "scale": {"domain": [-0.83, 1.175], "nice": false, "zero": false, "padding": 0},
                  "axis": {"orient": "right", "values": [0, 1], "labelOffset": 2.5, "title": "MACD", "titleAngle": 270, "titleBaseline": "top", "titlePadding": 6}},
            "y2": {"datum": 0},
            "color": {"condition": {"test": "datum.osc > 0", "value": "#ff4d4d"}, "value": "#4da64d"}
          }
        },
        {
          "transform": [{"filter": "datum.i == 0"}],
          "mark": {"type": "rule", "color": "#888888", "strokeWidth": 1, "strokeDash": [4, 3]},
          "encoding": {
            "x": null,
            "y": {"datum": 0, "type": "quantitative", "scale": {"domain": [-0.83, 1.175], "nice": false, "zero": false, "padding": 0},
                  "axis": {"orient": "right", "values": [0, 1], "labelOffset": 2.5, "title": "MACD", "titleAngle": 270, "titleBaseline": "top", "titlePadding": 6}}
          }
        },
        {
          "mark": {"type": "line", "color": "#0000ff", "strokeWidth": 1.5},
          "encoding": {"y": {"field": "dif", "type": "quantitative", "scale": {"domain": [-0.83, 1.175], "nice": false, "zero": false, "padding": 0},
                             "axis": {"orient": "right", "values": [0, 1], "labelOffset": 2.5, "title": "MACD", "titleAngle": 270, "titleBaseline": "top", "titlePadding": 6}}}
        },
        {
          "mark": {"type": "line", "color": "#ffa500", "strokeWidth": 1.5},
          "encoding": {"y": {"field": "dea", "type": "quantitative", "scale": {"domain": [-0.83, 1.175], "nice": false, "zero": false, "padding": 0},
                             "axis": {"orient": "right", "values": [0, 1], "labelOffset": 2.5, "title": "MACD", "titleAngle": 270, "titleBaseline": "top", "titlePadding": 6}}}
        }
      ]
    }
  ]
}
